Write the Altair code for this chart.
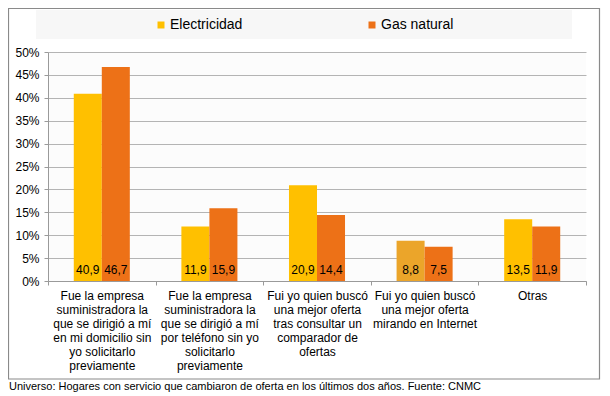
import altair as alt
import pandas as pd

categories = [
    "Fue la empresa|suministradora la|que se dirigió a mí|en mi domicilio sin|yo solicitarlo|previamente",
    "Fue la empresa|suministradora la|que se dirigió a mí|por teléfono sin yo|solicitarlo|previamente",
    "Fui yo quien buscó|una mejor oferta|tras consultar un|comparador de|ofertas",
    "Fui yo quien buscó|una mejor oferta|mirando en Internet",
    "Otras",
]
series = ["Electricidad", "Gas natural"]
electricidad = [40.9, 11.9, 20.9, 8.8, 13.5]
gas_natural = [46.7, 15.9, 14.4, 7.5, 11.9]
colors = ["#FFC000", "#ED7117"]
highlight_color = "#EBA52A"
y_ticks = [0, 5, 10, 15, 20, 25, 30, 35, 40, 45, 50]
footer = "Universo: Hogares con servicio que cambiaron de oferta en los últimos dos años. Fuente: CNMC"

rows = []
for i, c in enumerate(categories):
    rows.append({"cat": c, "idx": i, "series": series[0], "value": electricidad[i]})
    rows.append({"cat": c, "idx": i, "series": series[1], "value": gas_natural[i]})
df = pd.DataFrame(rows)

FONT = "Liberation Sans"
W, H = 538, 229

x_enc = alt.X(
    "cat:N",
    sort=categories,
    scale=alt.Scale(paddingInner=0, paddingOuter=0),
    axis=alt.Axis(
        title=None,
        labelAngle=0,
        labelExpr="split(datum.label, '|')",
        labelFont=FONT,
        labelFontSize=12,
        labelColor="#000000",
        labelLineHeight=14,
        labelPadding=5,
        labelBaseline="top",
        tickBand="extent",
        tickSize=4,
        tickColor="#9A9A9A",
        domainColor="#9A9A9A",
        grid=False,
        labelLimit=200,
    ),
)
xo_enc = alt.XOffset(
    "series:N", sort=series, scale=alt.Scale(paddingOuter=0.92, paddingInner=0)
)

y_scale = alt.Scale(domain=[0, 50], nice=False)
y_axis = alt.Axis(
    title=None,
    values=y_ticks,
    labelExpr="datum.value + '%'",
    labelFont=FONT,
    labelFontSize=12,
    labelColor="#000000",
    labelPadding=5,
    labelOverlap=False,
    tickSize=4,
    tickColor="#9A9A9A",
    domainColor="#9A9A9A",
    gridColor="#B4B4B4",
    gridWidth=1,
)

bars = alt.Chart(df).mark_bar().encode(
    x=x_enc,
    xOffset=xo_enc,
    y=alt.Y("value:Q", scale=y_scale, axis=y_axis),
    color=alt.when((alt.datum.series == "Electricidad") & (alt.datum.idx == 3))
    .then(alt.value(highlight_color))
    .otherwise(
        alt.Color(
            "series:N",
            scale=alt.Scale(domain=series, range=colors),
            legend=alt.Legend(
                title=None,
                orient="none",
                legendX=106,
                legendY=-34,
                direction="horizontal",
                symbolType="square",
                symbolSize=49,
                symbolStrokeWidth=0,
                labelFont=FONT,
                labelFontSize=14,
                labelColor="#000000",
                labelOffset=2,
                columnPadding=122,
                padding=0,
            ),
        )
    ),
)

texts = (
    alt.Chart(df)
    .transform_calculate(label="replace(format(datum.value, '.1f'), '.', ',')")
    .mark_text(font=FONT, fontSize=12, color="#000000", baseline="middle", dy=-11)
    .encode(
        x=x_enc,
        xOffset=xo_enc,
        y=alt.Y(datum=0, scale=y_scale, axis=y_axis),
        text="label:N",
    )
)

one = pd.DataFrame({"a": [0]})
border = alt.Chart(one).mark_rect(fill=None, stroke="#8A8A8A", strokeWidth=1.2).encode(
    x=alt.value(-39.5), x2=alt.value(551.5), y=alt.value(-43.5), y2=alt.value(327)
)
legend_bg = alt.Chart(one).mark_rect(fill="#F7F7F7", stroke=None).encode(
    x=alt.value(-12), x2=alt.value(524), y=alt.value(-42), y2=alt.value(-13)
)
foot = alt.Chart(pd.DataFrame({"t": [footer]})).mark_text(
    font=FONT, fontSize=11, color="#000000", align="left", baseline="middle"
).encode(x=alt.value(-39), y=alt.value(335), text="t:N")

chart = (
    alt.layer(border, legend_bg, bars, texts, foot)
    .properties(
        width=W,
        height=H,
        autosize=alt.AutoSizeParams(type="none"),
        padding={"left": 40, "top": 44, "right": 16, "bottom": 111},
        background="#FFFFFF",
    )
    .configure_view(fill="#FCFCFC", stroke=None)
)

chart.save("out.html", embed_options={"renderer": "svg", "actions": False})
